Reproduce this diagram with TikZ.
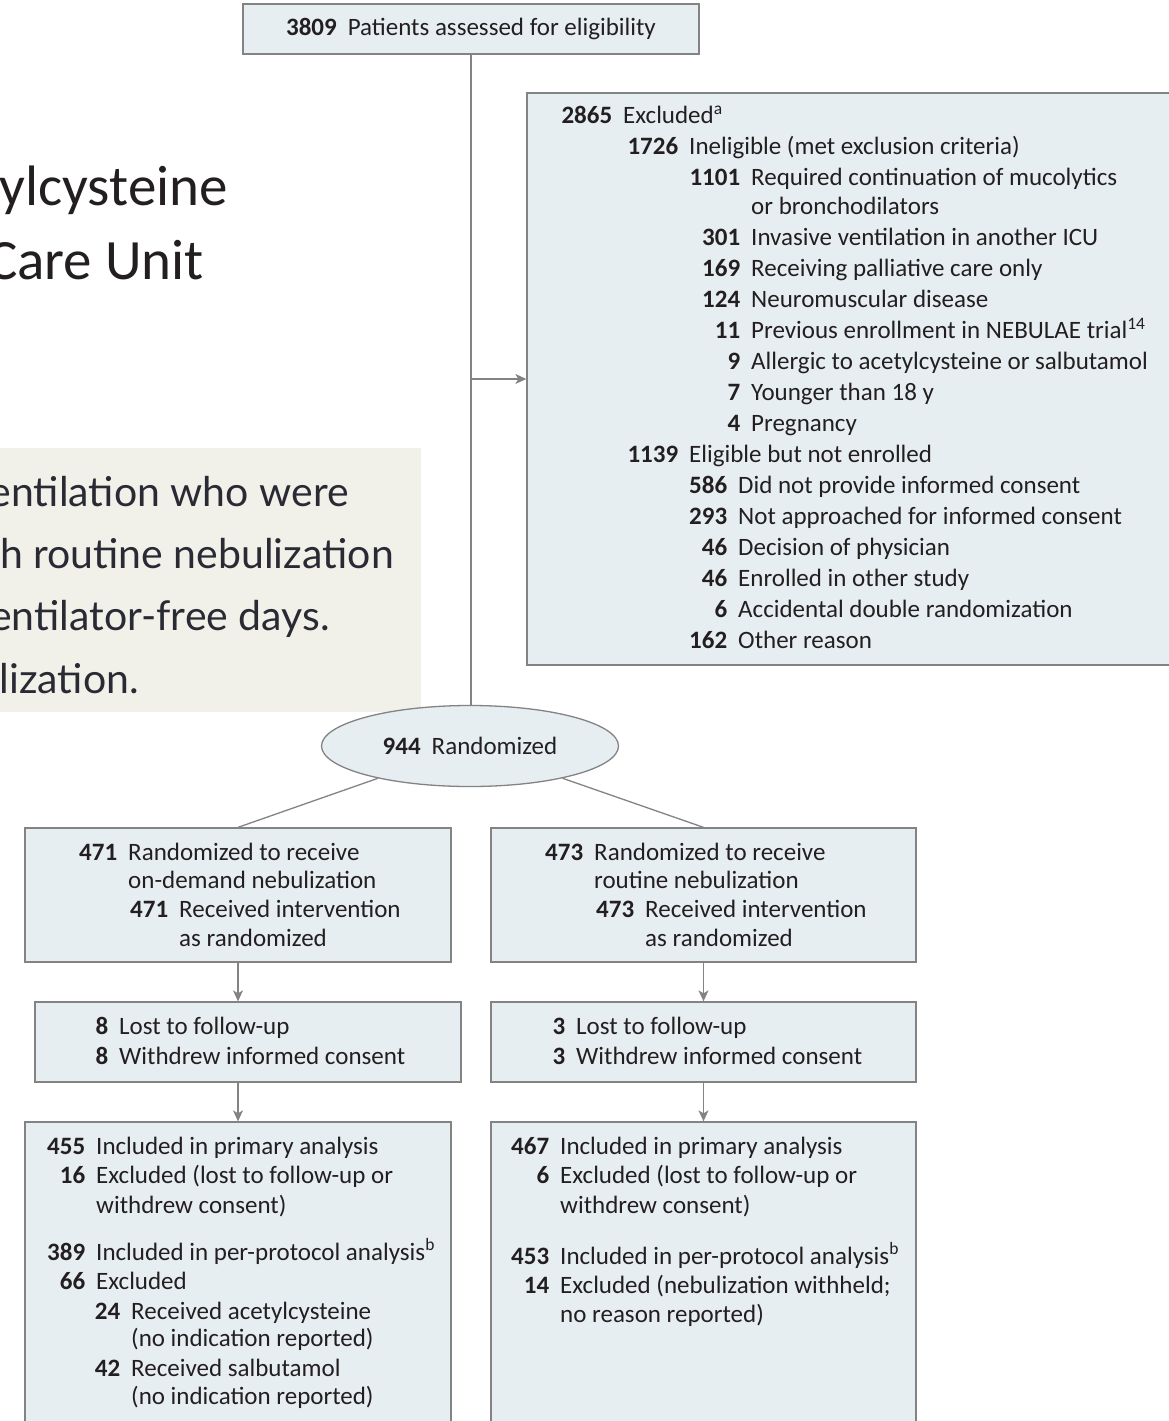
\documentclass[tikz,border=0pt]{standalone}
\usepackage{fontspec}
\setmainfont{Carlito}
\newfontfamily\notefont{Lato}
\usetikzlibrary{shapes.geometric, arrows.meta, positioning, calc}
\definecolor{boxFill}{HTML}{E7EEF2}
\definecolor{boxLine}{HTML}{838383}
\definecolor{inkDark}{HTML}{231F20}
\definecolor{noteFill}{HTML}{F1F1E9}
\definecolor{noteInk}{HTML}{2A2A35}

% one counted line: number right-aligned in a column of width #1
\newcommand{\lin}[3]{\makebox[#1pt][r]{\bfseries #2}\hspace{11pt}#3}
\newcommand{\firstline}{\rule{0pt}{21pt}}

\begin{document}
\begin{tikzpicture}[
    x=1pt, y=-1pt,
    box/.style={rectangle, draw=boxLine, fill=boxFill, line width=1.3pt, inner sep=0pt},
    txt/.style={anchor=north west, inner sep=0pt, align=left, text=inkDark, font=\fontsize{25}{#1}\selectfont},
    txt/.default=31,
    link/.style={draw=boxLine, line width=1.3pt},
    arrow/.style={link, -{Stealth[length=11pt, width=10pt, inset=3pt]}},
]
    \useasboundingbox (0,0) rectangle (1168,1421);

    % Background of the page behind the chart
    \node[anchor=base east, inner sep=0pt, text=inkDark, font=\fontsize{57}{62}\selectfont] (headA) at (228,205) {ylcysteine};
    \node[anchor=base east, inner sep=0pt, text=inkDark, font=\fontsize{57}{62}\selectfont] (headB) at (204,279) {Care Unit};
    \fill[noteFill] (0,448) rectangle (421,712);
    \node[anchor=base east, inner sep=0pt, text=noteInk, font=\notefont\fontsize{41}{62}\selectfont] (noteA) at (349,506) {entilation who were};
    \node[anchor=base east, inner sep=0pt, text=noteInk, font=\notefont\fontsize{41}{62}\selectfont] (noteB) at (394,568) {h routine nebulization};
    \node[anchor=base east, inner sep=0pt, text=noteInk, font=\notefont\fontsize{41}{62}\selectfont] (noteC) at (330,630) {entilator-free days.};
    \node[anchor=base east, inner sep=0pt, text=noteInk, font=\notefont\fontsize{41}{62}\selectfont] (noteD) at (139,693) {lization.};

    % Enrollment
    \node[box, minimum width=456pt, minimum height=50pt, text=inkDark, font=\fontsize{25}{31}\selectfont] (screen) at (471,29) {\textbf{3809}\hspace{11pt}Patients assessed for eligibility};
    \node[box, minimum width=663pt, minimum height=572pt] (excl) at (858.5,379) {};
    \node[txt] (exclTxt) at (557,102) {\firstline\lin{55}{2865}{Excluded\textsuperscript{a}}\\
        \lin{121}{1726}{Ineligible (met exclusion criteria)}\\
        \lin{183}{1101}{Required continuation of mucolytics}\\[-2pt]
        \lin{183}{}{or bronchodilators}\\
        \lin{183}{301}{Invasive ventilation in another ICU}\\
        \lin{183}{169}{Receiving palliative care only}\\
        \lin{183}{124}{Neuromuscular disease}\\
        \lin{183}{11}{Previous enrollment in NEBULAE trial\textsuperscript{14}}\\
        \lin{183}{9}{Allergic to acetylcysteine or salbutamol}\\
        \lin{183}{7}{Younger than 18 y}\\
        \lin{183}{4}{Pregnancy}\\
        \lin{121}{1139}{Eligible but not enrolled}\\
        \lin{170}{586}{Did not provide informed consent}\\
        \lin{170}{293}{Not approached for informed consent}\\
        \lin{170}{46}{Decision of physician}\\
        \lin{170}{46}{Enrolled in other study}\\
        \lin{170}{6}{Accidental double randomization}\\
        \lin{170}{162}{Other reason}};
    \node[ellipse, draw=boxLine, fill=boxFill, line width=1.3pt, minimum width=297pt, minimum height=81pt, text=inkDark, font=\fontsize{25}{31}\selectfont] (rand) at (470,746) {\textbf{944}\hspace{11pt}Randomized};

    % Allocation
    \node[box, minimum width=426pt, minimum height=134pt] (armA) at (238,895) {};
    \node[txt=28.7] (armAtxt) at (77,839) {\firstline\lin{40}{471}{Randomized to receive}\\
        \lin{40}{}{on-demand nebulization}\\
        \lin{91}{471}{Received intervention}\\
        \lin{91}{}{as randomized}};
    \node[box, minimum width=425pt, minimum height=134pt] (armB) at (703.5,895) {};
    \node[txt=28.7] (armBtxt) at (543,839) {\firstline\lin{40}{473}{Randomized to receive}\\
        \lin{40}{}{routine nebulization}\\
        \lin{91}{473}{Received intervention}\\
        \lin{91}{}{as randomized}};

    % Follow-up
    \node[box, minimum width=426pt, minimum height=80pt] (lostA) at (248,1042) {};
    \node[txt=30] (lostAtxt) at (96,1013) {\firstline\lin{12}{8}{Lost to follow-up}\\
        \lin{12}{8}{Withdrew informed consent}};
    \node[box, minimum width=425pt, minimum height=80pt] (lostB) at (703.5,1042) {};
    \node[txt=30] (lostBtxt) at (553,1013) {\firstline\lin{12}{3}{Lost to follow-up}\\
        \lin{12}{3}{Withdrew informed consent}};

    % Analysis
    \node[box, minimum width=426pt, minimum height=318pt] (anaA) at (238,1281) {};
    \node[txt=29.6] (anaAtxt) at (43,1133) {\firstline\lin{42}{455}{Included in primary analysis}\\
        \lin{42}{16}{Excluded (lost to follow-up or}\\
        \lin{42}{}{withdrew consent)}\\[17pt]
        \lin{42}{389}{Included in per-protocol analysis\textsuperscript{b}}\\
        \lin{42}{66}{Excluded}\\
        \lin{77}{24}{Received acetylcysteine}\\[-2pt]
        \lin{77}{}{(no indication reported)}\\
        \lin{77}{42}{Received salbutamol}\\[-2pt]
        \lin{77}{}{(no indication reported)}};
    \node[box, minimum width=425pt, minimum height=318pt] (anaB) at (703.5,1281) {};
    \node[txt=29.6] (anaBtxt) at (509,1133) {\firstline\lin{40}{467}{Included in primary analysis}\\
        \lin{40}{6}{Excluded (lost to follow-up or}\\
        \lin{40}{}{withdrew consent)}\\[21pt]
        \lin{40}{453}{Included in per-protocol analysis\textsuperscript{b}}\\
        \lin{40}{14}{Excluded (nebulization withheld;}\\[-1pt]
        \lin{40}{}{no reason reported)}};

    % Connectors
    \coordinate (split) at (screen.south |- excl.west);
    \draw[link] (screen.south) -- (screen.south |- rand.north);
    \draw[arrow] (split) -- (excl.west);
    \draw[link] (rand) -- (armA.north);
    \draw[link] (rand) -- (armB.north);
    \draw[arrow] (armA.south) -- (armA.south |- lostA.north);
    \draw[arrow] (armB.south) -- (lostB.north);
    \draw[arrow] (armA.south |- lostA.south) -- (armA.south |- anaA.north);
    \draw[arrow] (lostB.south) -- (anaB.north);
\end{tikzpicture}
\end{document}
